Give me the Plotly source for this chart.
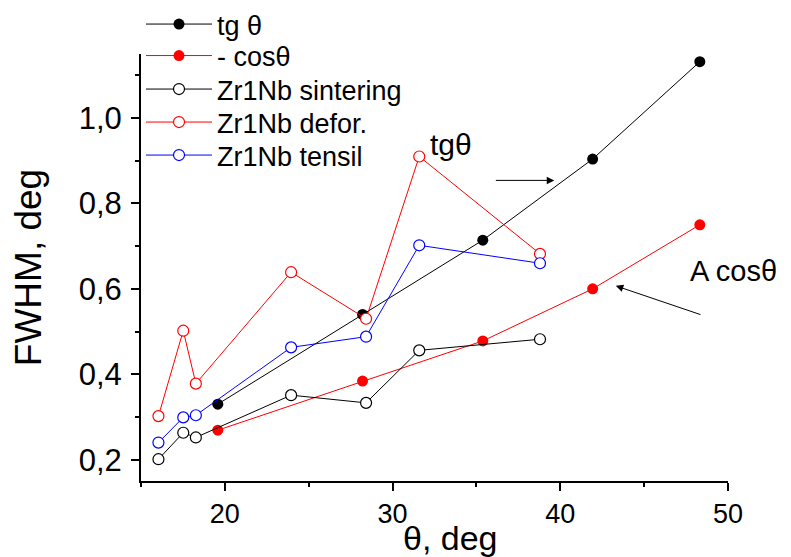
import plotly.graph_objects as go

# ---- data ----
theta_samples = [16.04, 17.52, 18.27, 23.95, 28.42, 31.59, 38.79]
fwhm_sintering = [0.201, 0.263, 0.252, 0.351, 0.333, 0.456, 0.482]
fwhm_defor = [0.302, 0.502, 0.378, 0.639, 0.530, 0.910, 0.682]
fwhm_tensil = [0.240, 0.299, 0.304, 0.463, 0.488, 0.702, 0.660]

theta_model = [19.58, 28.21, 35.38, 41.93, 48.32]
tg_values = [0.330, 0.540, 0.714, 0.904, 1.132]
cos_values = [0.269, 0.384, 0.478, 0.600, 0.750]

series_names = ["tg θ", "- cosθ", "Zr1Nb sintering", "Zr1Nb defor.", "Zr1Nb tensil"]
x_ticks = [20, 30, 40, 50]
y_ticks = [0.2, 0.4, 0.6, 0.8, 1.0]

FONT = "Liberation Sans, Arial, sans-serif"

# page body has an 8px margin, so the figure is 8px smaller than the window
W, H = 783, 549
M_L, M_R, M_T, M_B = 133, 63, 46, 76
PLOT_H = H - M_T - M_B  # 427

fig = go.Figure()

legend_ids = ["legend", "legend2", "legend3", "legend4", "legend5"]

fig.add_trace(go.Scatter(
    x=theta_model, y=tg_values, name=series_names[0], mode="lines+markers",
    line=dict(color="black", width=1), legend=legend_ids[0],
    marker=dict(symbol="circle", size=11, color="black")))
fig.add_trace(go.Scatter(
    x=theta_model, y=cos_values, name=series_names[1], mode="lines+markers",
    line=dict(color="red", width=1), legend=legend_ids[1],
    marker=dict(symbol="circle", size=11, color="red")))
fig.add_trace(go.Scatter(
    x=theta_samples, y=fwhm_sintering, name=series_names[2], mode="lines+markers",
    line=dict(color="black", width=1), legend=legend_ids[2],
    marker=dict(symbol="circle", size=11, color="white", line=dict(color="black", width=1.2))))
fig.add_trace(go.Scatter(
    x=theta_samples, y=fwhm_defor, name=series_names[3], mode="lines+markers",
    line=dict(color="red", width=1), legend=legend_ids[3],
    marker=dict(symbol="circle", size=11, color="white", line=dict(color="red", width=1.2))))
fig.add_trace(go.Scatter(
    x=theta_samples, y=fwhm_tensil, name=series_names[4], mode="lines+markers",
    line=dict(color="blue", width=1), legend=legend_ids[4],
    marker=dict(symbol="circle", size=11, color="white", line=dict(color="blue", width=1.2))))

# legend rows (centre of each row, pixels from the top of the plot area)
row_offsets = [-29.5, 2.0, 35.5, 68.5, 101.5]
legend_layout = {}
for lid, off in zip(legend_ids, row_offsets):
    legend_layout[lid] = dict(
        x=0.0, y=1 - off / PLOT_H, xanchor="left", yanchor="middle",
        bgcolor="rgba(0,0,0,0)", borderwidth=0,
        font=dict(family=FONT, size=27, color="black"), itemwidth=66)

fig.update_layout(
    width=W, height=H,
    margin=dict(l=M_L, r=M_R, t=M_T, b=M_B, autoexpand=False),
    paper_bgcolor="white", plot_bgcolor="white",
    separators=", ",
    font=dict(family=FONT, color="black"),
    showlegend=True,
    **legend_layout,
)

fig.update_xaxes(
    range=[15, 50], tickvals=x_ticks, ticktext=[str(v) for v in x_ticks],
    automargin=False,
    showgrid=False, zeroline=False, showline=True, linecolor="black", linewidth=2,
    ticks="outside", ticklen=8, tickwidth=1.5, tickcolor="black",
    tickfont=dict(family=FONT, size=27),
    minor=dict(dtick=5, tick0=15, ticks="outside", ticklen=4, tickwidth=1.5, tickcolor="black"),
)
fig.update_yaxes(
    range=[0.15, 1.15], tickvals=y_ticks, tickformat=".1f",
    automargin=False,
    showgrid=False, zeroline=False, showline=True, linecolor="black", linewidth=2,
    ticks="outside", ticklen=8, tickwidth=1.5, tickcolor="black",
    tickfont=dict(family=FONT, size=31), ticklabelstandoff=3,
    minor=dict(dtick=0.1, tick0=0.1, ticks="outside", ticklen=4, tickwidth=1.5, tickcolor="black"),
    title=dict(text="FWHM, deg", font=dict(family=FONT, size=37), standoff=28),
)

# x-axis title (placed slightly right of centre, as in the reference)
fig.add_annotation(x=0.528, y=-0.134, xref="paper", yref="paper", text="θ, deg",
                   showarrow=False, xanchor="center", yanchor="middle",
                   font=dict(family=FONT, size=34, color="black"))

# text labels and arrows
fig.add_annotation(x=33.5, y=0.937, xref="x", yref="y", text="tgθ", showarrow=False,
                   font=dict(family=FONT, size=30, color="black"))
fig.add_annotation(x=47.6, y=0.642, xref="x", yref="y", text="A cosθ", showarrow=False,
                   xanchor="left", font=dict(family=FONT, size=29, color="black"))
fig.add_annotation(x=39.64, y=0.854, ax=36.07, ay=0.854, xref="x", yref="y",
                   axref="x", ayref="y", text="", showarrow=True,
                   arrowhead=2, arrowsize=1.5, arrowwidth=1, arrowcolor="black")
fig.add_annotation(x=43.31, y=0.607, ax=48.45, ay=0.5385, xref="x", yref="y",
                   axref="x", ayref="y", text="", showarrow=True,
                   arrowhead=2, arrowsize=1.5, arrowwidth=1, arrowcolor="black")

fig.write_html("out.html")
